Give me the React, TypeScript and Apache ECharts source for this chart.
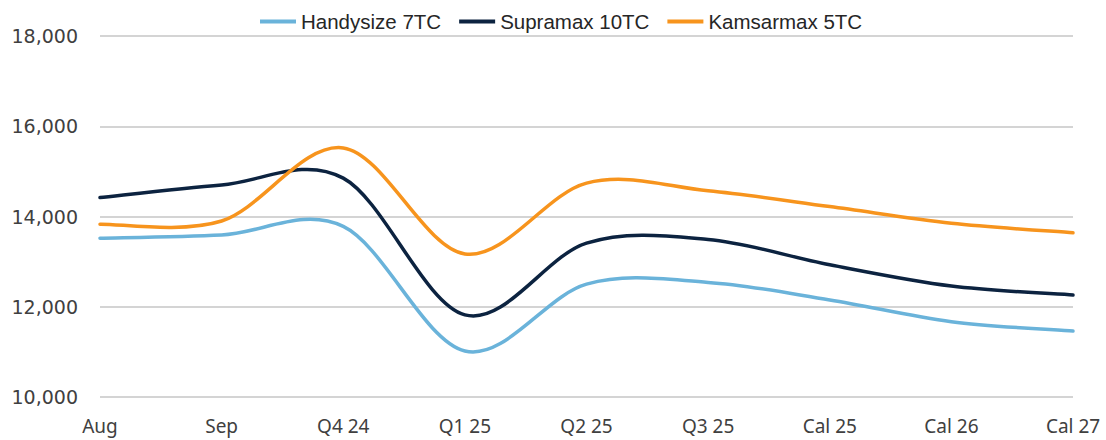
import React, { useEffect, useRef } from "react";
import * as echarts from "echarts";

const categories = ["Aug", "Sep", "Q4 24", "Q1 25", "Q2 25", "Q3 25", "Cal 25", "Cal 26", "Cal 27"];
const handysize = [13520, 13590, 13780, 11020, 12500, 12540, 12150, 11670, 11460];
const supramax = [14420, 14700, 14850, 11820, 13410, 13490, 12930, 12460, 12260];
const kamsarmax = [13830, 13900, 15520, 13170, 14740, 14570, 14220, 13850, 13640];
const seriesNames = ["Handysize 7TC", "Supramax 10TC", "Kamsarmax 5TC"];
const colors = ["#6AB3DA", "#0C2340", "#F7941D"];

function smoothRender(vals: number[], color: string) {
  return (params: any, api: any) => {
    if (params.dataIndex !== 0) return null;
    const pts: number[][] = vals.map((v, j) => api.coord([j, v]));
    let d = `M${pts[0][0]},${pts[0][1]}`;
    for (let j = 0; j < pts.length - 1; j++) {
      const p0 = pts[j - 1] || pts[j];
      const p1 = pts[j];
      const p2 = pts[j + 1];
      const p3 = pts[j + 2] || pts[j + 1];
      const c1x = p1[0] + (p2[0] - p0[0]) / 6;
      const c1y = p1[1] + (p2[1] - p0[1]) / 6;
      const c2x = p2[0] - (p3[0] - p1[0]) / 6;
      const c2y = p2[1] - (p3[1] - p1[1]) / 6;
      d += ` C${c1x},${c1y} ${c2x},${c2y} ${p2[0]},${p2[1]}`;
    }
    return {
      type: "path",
      shape: { pathData: d },
      style: { fill: "none", stroke: color, lineWidth: 3.5, lineCap: "round", lineJoin: "round" },
    };
  };
}

export default function App() {
  const ref = useRef<HTMLDivElement>(null);
  useEffect(() => {
    document.body.style.margin = "0";
    if (!ref.current) return;
    const chart = echarts.init(ref.current, null, { renderer: "svg" });
    const values = [handysize, supramax, kamsarmax];
    chart.setOption({
      animation: false,
      color: colors,
      legend: {
        top: 6,
        left: 255,
        icon: "rect",
        itemWidth: 36,
        itemHeight: 4,
        itemGap: 18,
        textStyle: { fontFamily: "Liberation Sans", fontSize: 20.5, color: "#262626" },
        data: seriesNames,
      },
      grid: { left: 100, right: 33, top: 36, bottom: 43 },
      xAxis: {
        type: "category",
        data: categories,
        boundaryGap: false,
        axisLine: { show: false },
        axisTick: { show: false },
        axisLabel: {
          margin: 19,
          fontFamily: "Noto Sans",
          fontSize: 19,
          lineHeight: 20,
          color: "#404040",
        },
      },
      yAxis: {
        type: "value",
        min: 10000,
        max: 18000,
        interval: 2000,
        axisLine: { show: false },
        axisTick: { show: false },
        splitLine: { lineStyle: { color: "#C6C6C6", width: 1.5 } },
        axisLabel: {
          margin: 22,
          fontFamily: "DejaVu Sans",
          fontSize: 19,
          color: "#404040",
          formatter: (v: number) => v.toLocaleString("en-US"),
        },
      },
      series: seriesNames.map((name, i) => ({
        name,
        type: "custom",
        data: values[i].map((v, j) => [j, v]),
        encode: { x: 0, y: 1 },
        renderItem: smoothRender(values[i], colors[i]),
        itemStyle: { color: colors[i] },
      })),
    });
    return () => chart.dispose();
  }, []);
  return <div ref={ref} style={{ width: 1106, height: 440 }} />;
}
